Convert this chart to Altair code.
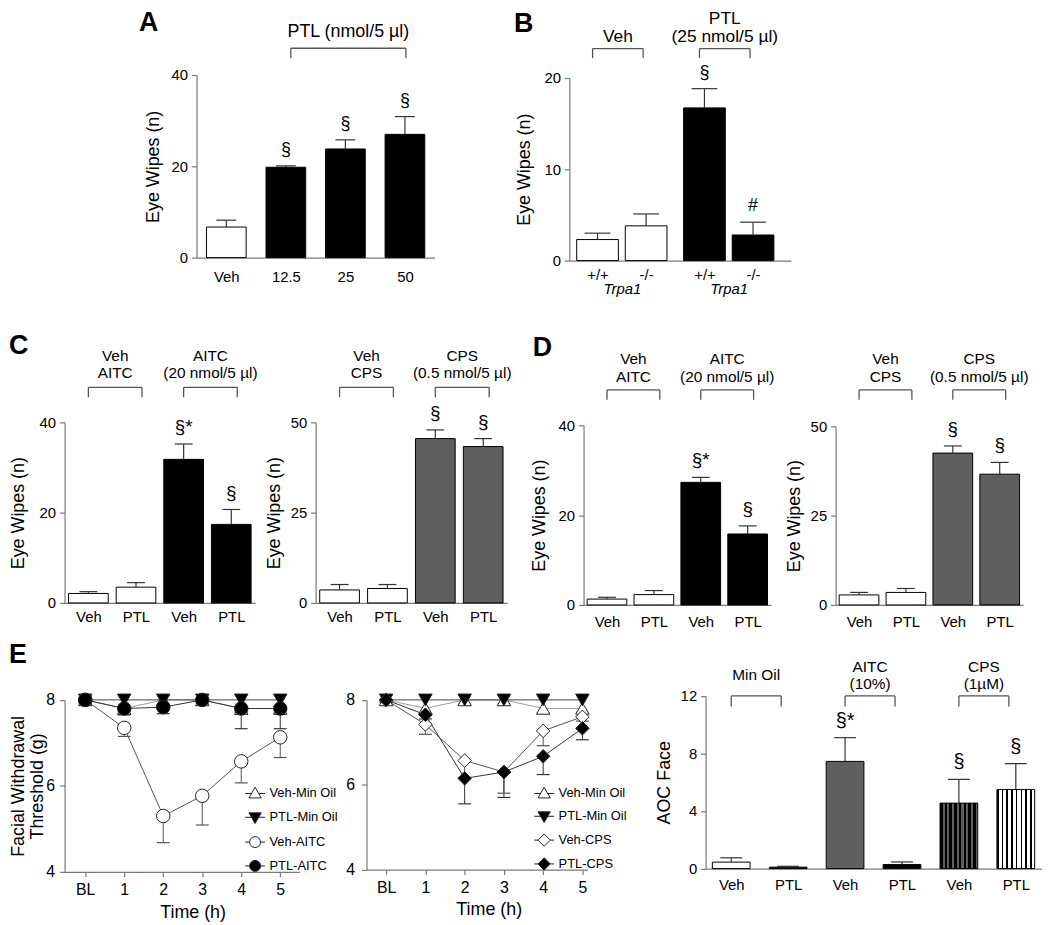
import altair as alt
import pandas as pd

W, H = 1042, 917
FONT = "Liberation Sans"
AXIS_GREY = "#7a7a7a"
DARK = "#333333"
LIGHT = "#9a9a9a"
BRACKET = "#555555"

# ---------------- data ----------------
# Panel A
a_labels = ["Veh", "12.5", "25", "50"]
a_mean = [6.7, 19.8, 23.8, 27.0]
a_sem = [1.5, 0.3, 2.0, 3.9]
a_group = ["veh", "ptl", "ptl", "ptl"]
a_sig = ["", "§", "§", "§"]
a_brackets = [(1, 3, "PTL (nmol/5 µl)")]

# Panel B
b_labels = ["+/+", "-/-", "+/+", "-/-"]
b_cluster = [0, 0, 1, 1]
b_mean = [2.3, 3.8, 16.7, 2.8]
b_sem = [0.7, 1.3, 2.1, 1.4]
b_group = ["veh", "veh", "ptl", "ptl"]
b_sig = ["", "", "§", "#"]
b_genotype = "Trpa1"
b_brackets = [(0, 1, "Veh"), (2, 3, "PTL\n(25 nmol/5 µl)")]

# Panels C and D
cd_labels = ["Veh", "PTL", "Veh", "PTL"]
c_aitc_mean = [2.1, 3.5, 31.8, 17.4]
c_aitc_sem = [0.4, 1.0, 3.4, 3.3]
c_cps_mean = [3.6, 4.0, 45.5, 43.3]
c_cps_sem = [1.5, 1.1, 2.4, 2.2]
d_aitc_mean = [1.3, 2.3, 27.3, 15.8]
d_aitc_sem = [0.4, 0.9, 1.1, 1.8]
d_cps_mean = [2.8, 3.5, 42.5, 36.6]
d_cps_sem = [0.7, 1.1, 2.0, 3.3]
aitc_group = ["veh", "veh", "ptl", "ptl"]
cps_group = ["veh", "veh", "cps", "cps"]
aitc_sig = ["", "", "§*", "§"]
cps_sig = ["", "", "§", "§"]
aitc_brackets = [(0, 1, "Veh\nAITC"), (2, 3, "AITC\n(20 nmol/5 µl)")]
cps_brackets = [(0, 1, "Veh\nCPS"), (2, 3, "CPS\n(0.5 nmol/5 µl)")]

# Panel E (time courses)
time_labels = ["BL", "1", "2", "3", "4", "5"]
e1_series = ["Veh-Min Oil", "PTL-Min Oil", "Veh-AITC", "PTL-AITC"]
e2_series = ["Veh-Min Oil", "PTL-Min Oil", "Veh-CPS", "PTL-CPS"]
veh_minoil_mean = [8.0, 7.8, 8.0, 8.0, 7.8, 7.8]
veh_minoil_sem = [0.08, 0.12, 0.08, 0.08, 0.1, 0.12]
ptl_minoil_mean = [8.0, 8.0, 8.0, 8.0, 8.0, 8.0]
ptl_minoil_sem = [0.0, 0.0, 0.0, 0.0, 0.0, 0.0]
veh_aitc_mean = [8.0, 7.35, 5.3, 5.77, 6.57, 7.13]
veh_aitc_sem = [0.05, 0.2, 0.62, 0.68, 0.5, 0.47]
ptl_aitc_mean = [8.0, 7.8, 7.83, 8.0, 7.8, 7.8]
ptl_aitc_sem = [0.08, 0.15, 0.15, 0.0, 0.47, 0.47]
veh_cps_mean = [8.0, 7.42, 6.57, 6.3, 7.27, 7.6]
veh_cps_sem = [0.05, 0.23, 0.4, 0.5, 0.35, 0.1]
ptl_cps_mean = [8.0, 7.65, 6.15, 6.3, 6.67, 7.33]
ptl_cps_sem = [0.05, 0.1, 0.6, 0.6, 0.43, 0.27]

# Panel E (area over curve)
e3_labels = ["Veh", "PTL", "Veh", "PTL", "Veh", "PTL"]
e3_mean = [0.45, 0.1, 7.45, 0.28, 4.55, 5.5]
e3_sem = [0.3, 0.06, 1.65, 0.18, 1.65, 1.8]
e3_group = ["veh", "ptl", "aitc", "ptl", "cps_veh", "cps_ptl"]
e3_sig = ["", "", "§*", "", "§", "§"]
e3_brackets = [(0, 1, "Min Oil"), (2, 3, "AITC\n(10%)"), (4, 5, "CPS\n(1µM)")]

# ---------------- styles ----------------
FILLS = {"veh": "white", "ptl": "black", "cps": "#5f5f5f", "aitc": "#5f5f5f"}


def stripes(bg, fg, n, frac):
    stops = []
    for i in range(n):
        a = i / n
        b = (i + frac) / n
        c = (i + 1) / n
        stops += [alt.GradientStop(offset=a, color=fg), alt.GradientStop(offset=b, color=fg),
                  alt.GradientStop(offset=b, color=bg), alt.GradientStop(offset=c, color=bg)]
    return alt.LinearGradient(gradient="linear", stops=stops, x1=0, x2=1, y1=0, y2=0)


STRIPED = {"cps_veh": stripes("#5f5f5f", "black", 8, 0.55),
           "cps_ptl": stripes("white", "black", 8, 0.35)}

# ---------------- layout (pixels in chart coordinates) ----------------
LAY = {
    "A": dict(x0=190, x1=430, xdom=[-0.5, 3.5], y0=248, y1=64, ydom=[0, 40], yticks=[0, 20, 40],
              title="Eye Wipes (n)", tx=-43, bar=40, cap=20, lpad=12, br_top=37, br_bot=47, br_dx=(5, 1),
              txt_y=25.3, txt_size=18, lh=18, txt_mode="bottom", sig_size=18),
    "B": dict(x0=565.7, x1=789, xdom=[-0.58, 3.98], y0=251, y1=66.7, ydom=[0, 20], yticks=[0, 10, 20],
              title="Eye Wipes (n)", tx=-45, bar=42, cap=26, lpad=6.6, br_top=37.3, br_bot=47, br_dx=(-5, -3),
              txt_y=31, txt_size=17.5, lh=18, txt_mode="bottom", sig_size=18, glpad=21.6),
    "C1": dict(x0=57, x1=249, xdom=[-0.5, 3.5], y0=596, y1=414, ydom=[0, 40], yticks=[0, 20, 40],
               title="Eye Wipes (n)", tx=-46, bar=40, cap=18, lpad=7, br_top=378.7, br_bot=388.7, br_dx=(0, 6),
               txt_y=369.3, txt_size=15.5, lh=17.3, txt_mode="bottom", sig_size=19),
    "C2": dict(x0=310, x1=503, xdom=[-0.5, 3.5], y0=596, y1=414, ydom=[0, 50], yticks=[0, 25, 50],
               title="Eye Wipes (n)", tx=-41, bar=40, cap=18, lpad=7, br_top=378.7, br_bot=388.7, br_dx=(0, 6),
               txt_y=369.3, txt_size=15.5, lh=17.3, txt_mode="bottom", sig_size=19),
    "D1": dict(x0=580, x1=769, xdom=[-0.5, 3.5], y0=598, y1=417, ydom=[0, 40], yticks=[0, 20, 40],
               title="Eye Wipes (n)", tx=-44, bar=40, cap=18, lpad=10, br_top=381.3, br_bot=391.3, br_dx=(0, 6),
               txt_y=373, txt_size=15.5, lh=17.5, txt_mode="bottom", sig_size=19),
    "D2": dict(x0=834, x1=1023, xdom=[-0.5, 3.5], y0=598, y1=418, ydom=[0, 50], yticks=[0, 25, 50],
               title="Eye Wipes (n)", tx=-41, bar=40, cap=18, lpad=10, br_top=381.3, br_bot=391.3, br_dx=(0, 6),
               txt_y=373, txt_size=15.5, lh=17.5, txt_mode="bottom", sig_size=19),
    "E1": dict(x0=57, x1=294, xdom=[-0.53, 5.5], y0=867, y1=693.7, ydom=[4, 8], yticks=[4, 6, 8],
               title=["Facial Withdrawal", "Threshold (g)"], tx=-46, tlh=19, ttx=186, tty=32, ypad=5,
               legx=238.5, legy=777.5, rowpad=6),
    "E2": dict(x0=361.3, x1=584, xdom=[-0.5, 5.13], y0=864.7, y1=693.7, ydom=[4, 8], yticks=[4, 6, 8],
               title=None, tx=-40, tlh=20, ttx=484.5, tty=31, ypad=7, legx=529.8, legy=777.5, rowpad=5),
    "E3": dict(x0=703, x1=1042, xdom=[-0.45, 5.46], y0=863.7, y1=689.7, ydom=[0, 12], yticks=[0, 4, 8, 12],
               title="AOC Face", tx=-41.3, bar=38, cap=22, lpad=9, br_top=689.7, br_bot=700.3, br_dx=(0, -7),
               txt_y=674, txt_size=15.5, lh=17, txt_mode="middle", sig_size=20),
}
LETTERS = [("A", 132, 20), ("B", 510, 21), ("C", 1, 345), ("D", 528.7, 347), ("E", 1, 657)]


def lin(dom, rng):
    return alt.Scale(domain=dom, range=rng, nice=False, zero=False, padding=0)


def label_expr(positions, labels):
    expr = "''"
    for p, lab in reversed(list(zip(positions, labels))):
        expr = f"abs(datum.value - {p}) < 0.01 ? '{lab}' : {expr}"
    return expr


def y_axis(lay, size=15, pad=4):
    kw = dict(orient="left", offset=-lay["x0"], values=lay["yticks"], tickSize=5,
              labelPadding=pad, labelFontSize=size, titleFontSize=18, titleX=lay["tx"],
              titleBaseline="middle", titleLineHeight=lay.get("tlh", 21))
    kw["title"] = lay["title"] if lay["title"] is not None else ""
    return alt.Axis(**kw)


def bracket_layers(lay, xs, pos, brackets):
    unit = (lay["x1"] - lay["x0"]) / (lay["xdom"][1] - lay["xdom"][0])
    dl, dr = lay["br_dx"][0] / unit, lay["br_dx"][1] / unit
    rows, ends, lines = [], [], []
    for i, j, text in brackets:
        xa, xb = pos[i] + dl, pos[j] + dr
        rows.append({"xa": xa, "xb": xb})
        ends += [{"xe": xa}, {"xe": xb}]
        parts = text.split("\n")
        n = len(parts)
        for k, part in enumerate(parts):
            if lay["txt_mode"] == "bottom":
                ty = lay["txt_y"] - (n - 1 - k) * lay["lh"]
            else:
                ty = lay["txt_y"] + (k - (n - 1) / 2) * lay["lh"]
            lines.append({"xm": (xa + xb) / 2, "line": part, "ty": ty})
    bdf, edf, ldf = pd.DataFrame(rows), pd.DataFrame(ends), pd.DataFrame(lines)
    h = alt.Chart(bdf).mark_rule(color=BRACKET, strokeWidth=1.3).encode(
        x=alt.X("xa:Q", scale=xs, axis=None), x2="xb:Q", y=alt.value(lay["br_top"]))
    v = alt.Chart(edf).mark_rule(color=BRACKET, strokeWidth=1.3).encode(
        x=alt.X("xe:Q", scale=xs, axis=None), y=alt.value(lay["br_top"]), y2=alt.value(lay["br_bot"]))
    t = alt.Chart(ldf).mark_text(align="center", baseline="alphabetic", fontSize=lay["txt_size"],
                                 font=FONT, color="black").encode(
        x=alt.X("xm:Q", scale=xs, axis=None), y=alt.Y("ty:Q", scale=None), text="line:N")
    return [h, v, t]


def bar_panel(lay, labels, mean, sem, group, sig, brackets, positions=None, genotype=None):
    n = len(labels)
    pos = positions if positions is not None else list(range(n))
    df = pd.DataFrame({
        "pos": pos, "mean": mean, "top": [m + s for m, s in zip(mean, sem)],
        "base": [0] * n, "group": group, "sig": sig,
    })
    df["fill"] = [FILLS.get(g, "white") for g in group]
    xs = lin(lay["xdom"], [lay["x0"], lay["x1"]])
    ys = lin(lay["ydom"], [lay["y0"], lay["y1"]])
    x_ax = alt.Axis(orient="bottom", offset=lay["y0"] - H, values=pos, labelExpr=label_expr(pos, labels),
                    ticks=False, labelPadding=lay["lpad"], labelFontSize=15, title="")
    layers = []
    plain = df[~df["group"].isin(list(STRIPED))]
    layers.append(
        alt.Chart(plain).mark_bar(size=lay["bar"], stroke="black", strokeWidth=1).encode(
            x=alt.X("pos:Q", scale=xs, axis=x_ax),
            y=alt.Y("mean:Q", scale=ys, axis=y_axis(lay)),
            y2="base:Q",
            fill=alt.Fill("fill:N", scale=None),
        )
    )
    for g, grad in STRIPED.items():
        sub = df[df["group"] == g]
        if len(sub):
            layers.append(
                alt.Chart(sub).mark_bar(size=lay["bar"], stroke="black", strokeWidth=1, fill=grad).encode(
                    x=alt.X("pos:Q", scale=xs, axis=None),
                    y=alt.Y("mean:Q", scale=ys, axis=None),
                    y2="base:Q",
                )
            )
    if genotype is not None:
        gpos = []
        for c in sorted(set(b_cluster)):
            ps = [p for p, k in zip(pos, b_cluster) if k == c]
            gpos.append(sum(ps) / len(ps))
        stem_x_axis = alt.Axis(orient="bottom", offset=lay["y0"] - H, values=gpos, labelExpr=f"'{genotype}'",
                               ticks=False, domain=False, labelPadding=lay["glpad"], labelFontSize=15,
                               labelFontStyle="italic", title="")
    else:
        stem_x_axis = None
    layers.append(
        alt.Chart(df).mark_rule(color=DARK, strokeWidth=1.2).encode(
            x=alt.X("pos:Q", scale=xs, axis=stem_x_axis),
            y=alt.Y("mean:Q", scale=ys, axis=None),
            y2="top:Q",
        )
    )
    layers.append(
        alt.Chart(df).mark_tick(orient="horizontal", size=lay["cap"], thickness=1.2, color=DARK, opacity=1).encode(
            x=alt.X("pos:Q", scale=xs, axis=None),
            y=alt.Y("top:Q", scale=ys, axis=None),
        )
    )
    layers.append(
        alt.Chart(df).mark_text(dy=-11, baseline="alphabetic", align="center", fontSize=lay["sig_size"],
                                font=FONT, color="black").encode(
            x=alt.X("pos:Q", scale=xs, axis=None),
            y=alt.Y("top:Q", scale=ys, axis=None),
            text="sig:N",
        )
    )
    layers += bracket_layers(lay, xs, pos, brackets)
    return layers


LEGEND_PATHS = {
    "triangle-up": "M-1,0H-0.36M0.36,0H1M0,-0.62L0.62,0.45L-0.62,0.45Z",
    "triangle-down": "M-1,0H-0.36M0.36,0H1M0,0.62L0.62,-0.45L-0.62,-0.45Z",
    "circle": "M-1,0H-0.55M0.55,0H1M0.55,0A0.55,0.55 0 1 1 -0.55,0A0.55,0.55 0 1 1 0.55,0Z",
    "diamond": "M-1,0H-0.62M0.62,0H1M0,-0.62L0.62,0L0,0.62L-0.62,0Z",
}


def line_panel(lay, series, means, sems, shapes, fills, lcol, ecol):
    rows = []
    for s in series:
        for t in range(len(time_labels)):
            rows.append({"series": s, "t": t, "mean": means[s][t], "low": means[s][t] - sems[s][t],
                         "lc": lcol[s], "ec": ecol[s]})
    df = pd.DataFrame(rows)
    xs = lin(lay["xdom"], [lay["x0"], lay["x1"]])
    ys = lin(lay["ydom"], [lay["y0"], lay["y1"]])
    tpos = list(range(len(time_labels)))
    x_ax = alt.Axis(orient="bottom", offset=lay["y0"] - H, values=tpos, labelExpr=label_expr(tpos, time_labels),
                    tickSize=5, labelPadding=5, labelFontSize=16, title="Time (h)", titleFontSize=18,
                    titleX=lay["ttx"], titleY=lay["tty"], titleBaseline="top")
    errdf = df[df["low"] < df["mean"]]
    X = lambda ax=None: alt.X("t:Q", scale=xs, axis=ax)
    layers = [
        alt.Chart(df).mark_line(strokeWidth=1).encode(
            x=X(x_ax), y=alt.Y("mean:Q", scale=ys, axis=y_axis(lay, size=16, pad=lay["ypad"])),
            detail="series:N", stroke=alt.Stroke("lc:N", scale=None)),
        alt.Chart(errdf).mark_rule(strokeWidth=1).encode(
            x=X(), y=alt.Y("low:Q", scale=ys, axis=None), y2="mean:Q", stroke=alt.Stroke("ec:N", scale=None)),
        alt.Chart(errdf).mark_tick(orient="horizontal", size=13, thickness=1.2, opacity=1).encode(
            x=X(), y=alt.Y("low:Q", scale=ys, axis=None), color=alt.Color("ec:N", scale=None)),
        alt.Chart(df).mark_point(filled=True, size=185, opacity=1, stroke="#222", strokeWidth=1).encode(
            x=X(), y=alt.Y("mean:Q", scale=ys, axis=None),
            shape=alt.Shape("series:N", scale=alt.Scale(domain=series, range=shapes), legend=None),
            fill=alt.Fill("series:N", scale=alt.Scale(domain=series, range=fills), legend=None)),
    ]
    leg = dict(orient="none", legendX=lay["legx"], legendY=lay["legy"], title=None, labelFontSize=13,
               labelFont=FONT, labelColor="black", symbolSize=400, symbolStrokeWidth=1,
               symbolOpacity=1, labelOffset=4, rowPadding=lay["rowpad"], padding=0)
    layers.append(
        alt.Chart(df).transform_filter("false").mark_point(filled=True, opacity=1, strokeWidth=1).encode(
            shape=alt.Shape("series:N", scale=alt.Scale(domain=series, range=[LEGEND_PATHS[s] for s in shapes]),
                            legend=alt.Legend(**leg)),
            fill=alt.Fill("series:N", scale=alt.Scale(domain=series, range=fills), legend=alt.Legend(**leg)),
            stroke=alt.Stroke("series:N", scale=alt.Scale(domain=series, range=["#222222"] * len(series)),
                              legend=alt.Legend(**leg)),
        )
    )
    return layers


layers = []
layers += bar_panel(LAY["A"], a_labels, a_mean, a_sem, a_group, a_sig, a_brackets)
b_pos = [i + 0.2 * c for i, c in enumerate(b_cluster)]
layers += bar_panel(LAY["B"], b_labels, b_mean, b_sem, b_group, b_sig, b_brackets, positions=b_pos,
                    genotype=b_genotype)
layers += bar_panel(LAY["C1"], cd_labels, c_aitc_mean, c_aitc_sem, aitc_group, aitc_sig, aitc_brackets)
layers += bar_panel(LAY["C2"], cd_labels, c_cps_mean, c_cps_sem, cps_group, cps_sig, cps_brackets)
layers += bar_panel(LAY["D1"], cd_labels, d_aitc_mean, d_aitc_sem, aitc_group, aitc_sig, aitc_brackets)
layers += bar_panel(LAY["D2"], cd_labels, d_cps_mean, d_cps_sem, cps_group, cps_sig, cps_brackets)

e1_means = {"Veh-Min Oil": veh_minoil_mean, "PTL-Min Oil": ptl_minoil_mean,
            "Veh-AITC": veh_aitc_mean, "PTL-AITC": ptl_aitc_mean}
e1_sems = {"Veh-Min Oil": veh_minoil_sem, "PTL-Min Oil": ptl_minoil_sem,
           "Veh-AITC": veh_aitc_sem, "PTL-AITC": ptl_aitc_sem}
e2_means = {"Veh-Min Oil": veh_minoil_mean, "PTL-Min Oil": ptl_minoil_mean,
            "Veh-CPS": veh_cps_mean, "PTL-CPS": ptl_cps_mean}
e2_sems = {"Veh-Min Oil": veh_minoil_sem, "PTL-Min Oil": ptl_minoil_sem,
           "Veh-CPS": veh_cps_sem, "PTL-CPS": ptl_cps_sem}
line_col = {"Veh-Min Oil": LIGHT, "PTL-Min Oil": "#444444", "Veh-AITC": "#555555", "PTL-AITC": DARK,
            "Veh-CPS": "#555555", "PTL-CPS": DARK}
err_col = {"Veh-Min Oil": LIGHT, "PTL-Min Oil": DARK, "Veh-AITC": "#555555", "PTL-AITC": DARK,
           "Veh-CPS": "#555555", "PTL-CPS": DARK}
layers += line_panel(LAY["E1"], e1_series, e1_means, e1_sems,
                     ["triangle-up", "triangle-down", "circle", "circle"],
                     ["white", "black", "white", "black"], line_col, err_col)
layers += line_panel(LAY["E2"], e2_series, e2_means, e2_sems,
                     ["triangle-up", "triangle-down", "diamond", "diamond"],
                     ["white", "black", "white", "black"], line_col, err_col)
layers += bar_panel(LAY["E3"], e3_labels, e3_mean, e3_sem, e3_group, e3_sig, e3_brackets)

for letter, lx, ly in LETTERS:
    layers.append(
        alt.Chart(pd.DataFrame({"t": [letter]})).mark_text(
            fontSize=27, fontWeight="bold", font=FONT, align="left", baseline="alphabetic", color="black"
        ).encode(x=alt.value(lx), y=alt.value(ly), text="t:N")
    )

chart = (
    alt.layer(*layers)
    .resolve_scale(x="independent", y="independent", shape="independent", fill="independent",
                   stroke="independent", color="independent")
    .properties(width=W, height=H, padding=0, autosize=alt.AutoSizeParams(type="none"))
    .configure_view(strokeWidth=0)
    .configure_axis(labelFont=FONT, titleFont=FONT, labelColor="black", titleColor="black",
                    titleFontWeight="normal", domainColor=AXIS_GREY, tickColor=AXIS_GREY,
                    domainWidth=1.2, tickWidth=1.2, grid=False, labelFlush=False, labelOverlap=False)
)

chart.save("out.html", embed_options={"renderer": "svg", "actions": False})
